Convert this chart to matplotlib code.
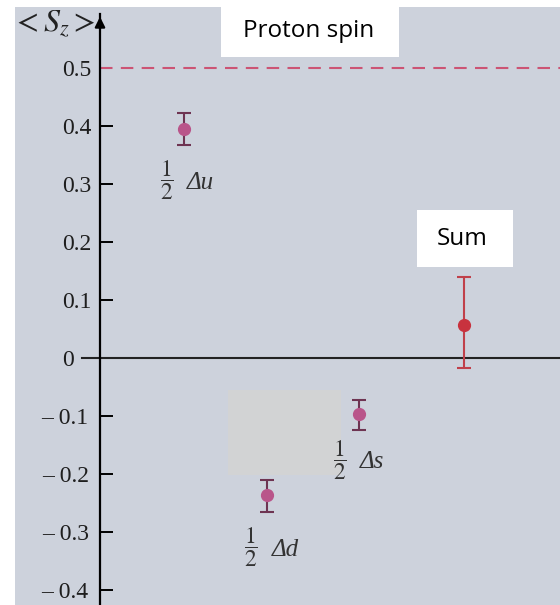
import numpy as np
import matplotlib.pyplot as plt
from matplotlib.patches import Rectangle
from matplotlib.transforms import ScaledTranslation

# quark spin contributions to the proton spin
names = ['du', 'dd', 'ds', 'sum']
xpos = [1.0, 2.0, 3.1, 4.35]
values = [0.395, -0.236, -0.097, 0.057]
err_low = [0.028, 0.030, 0.027, 0.074]
err_high = [0.027, 0.025, 0.025, 0.083]
symbols = ['\u0394u', '\u0394d', '\u0394s']
sum_label = 'Sum'
proton_spin = 0.5

yticks = [0.5, 0.4, 0.3, 0.2, 0.1, 0, -0.1, -0.2, -0.3, -0.4]
ytick_labels = ['0.5', '0.4', '0.3', '0.2', '0.1', '0',
                '\u2013 0.1', '\u2013 0.2', '\u2013 0.3', '\u2013 0.4']

plt.rcParams['mathtext.fontset'] = 'stix'

W, H = 560, 605
fig = plt.figure(figsize=(W / 100, H / 100), dpi=100, facecolor='white')

# scanned page background
bg = '#cdd2dc'
fig.patches.append(Rectangle((15 / W, 0), 1, 1 - 7 / H, transform=fig.transFigure,
                             facecolor=bg, edgecolor='none', zorder=-2))
# faint stain in the scan
fig.patches.append(Rectangle((228 / W, 1 - 475 / H), 113 / W, 85 / H, transform=fig.transFigure,
                             facecolor='#d2d3d4', edgecolor='none', zorder=-1))

ax = fig.add_axes([100 / W, 0, 460 / W, 1 - 14 / H])
ax.patch.set_alpha(0)
ax.set_xlim(0, 5.5)
ax.set_ylim(-0.426, 0.593)

for s in ['top', 'right', 'bottom']:
    ax.spines[s].set_visible(False)
ax.spines['left'].set_linewidth(1.6)
ax.set_xticks([])

ax.set_yticks(yticks)
ax.set_yticklabels(ytick_labels, fontfamily='Liberation Serif', fontsize=17, color='#1e1e1e')
ax.tick_params(axis='y', direction='in', length=9, width=1.4, pad=6)
for t, v in zip(ax.yaxis.get_major_ticks(), yticks):
    if v in (0, 0.5):
        t.tick1line.set_visible(False)
    if v == 0:
        # zero label sits left of where the zero line starts
        t.label1.set_transform(t.label1.get_transform()
                               + ScaledTranslation(-0.18, 0, fig.dpi_scale_trans))
    if v < 0:
        t.label1.set_transform(t.label1.get_transform()
                               + ScaledTranslation(-0.03, 0, fig.dpi_scale_trans))

# arrow at the top of the y axis
ax.annotate('', xy=(0, 1.0), xytext=(0, 0.97), xycoords='axes fraction',
            arrowprops=dict(arrowstyle='-|>', color='black', lw=1.6, mutation_scale=15),
            annotation_clip=False)

# zero line and proton spin line
ax.plot([-0.22, 5.5], [0, 0], color='#222222', lw=1.5, clip_on=False)
ax.axhline(proton_spin, color='#cc5474', lw=1.5, dashes=(6, 4))

# points with error bars
for i in range(len(names)):
    is_sum = names[i] == 'sum'
    mcol = '#c8323e' if is_sum else '#b9558a'
    ecol = '#c0404a' if is_sum else '#6e3452'
    ax.errorbar(xpos[i], values[i], yerr=[[err_low[i]], [err_high[i]]], fmt='o',
                color=mcol, ms=8.5, ecolor=ecol, elinewidth=1.5, capsize=5, capthick=1.5)

# labels under the quark points: 1/2 and the italic symbol
half_pos = [(0.8, 0.306), (1.81, -0.327), (2.87, -0.176)]
for (hx, hy), sym in zip(half_pos, symbols):
    ax.text(hx, hy, r'$\dfrac{1}{2}$', fontsize=17, ha='center', va='center', color='#333333')
    ax.text(hx + 0.24, hy - 0.004, sym, fontsize=18, fontfamily='Liberation Serif',
            fontstyle='italic', ha='left', va='center', color='#333333')

fig.text(12 / W, 1 - 24 / H, r'$<S_z>$', fontsize=23, ha='left', va='center', color='#222222')

# white label boxes
fig.patches.append(Rectangle((221 / W, 1 - 57 / H), 178 / W, 57 / H, transform=fig.transFigure,
                             facecolor='white', edgecolor='none', zorder=5))
fig.text(309 / W, 1 - 31 / H, 'Proton spin', fontsize=17.5, fontfamily='Open Sans',
         ha='center', va='center', zorder=6)
fig.patches.append(Rectangle((417 / W, 1 - 267 / H), 96 / W, 57 / H, transform=fig.transFigure,
                             facecolor='white', edgecolor='none', zorder=5))
fig.text(462 / W, 1 - 239 / H, sum_label, fontsize=17.5, fontfamily='Open Sans',
         ha='center', va='center', zorder=6)

fig.savefig('out.png', dpi=100)
